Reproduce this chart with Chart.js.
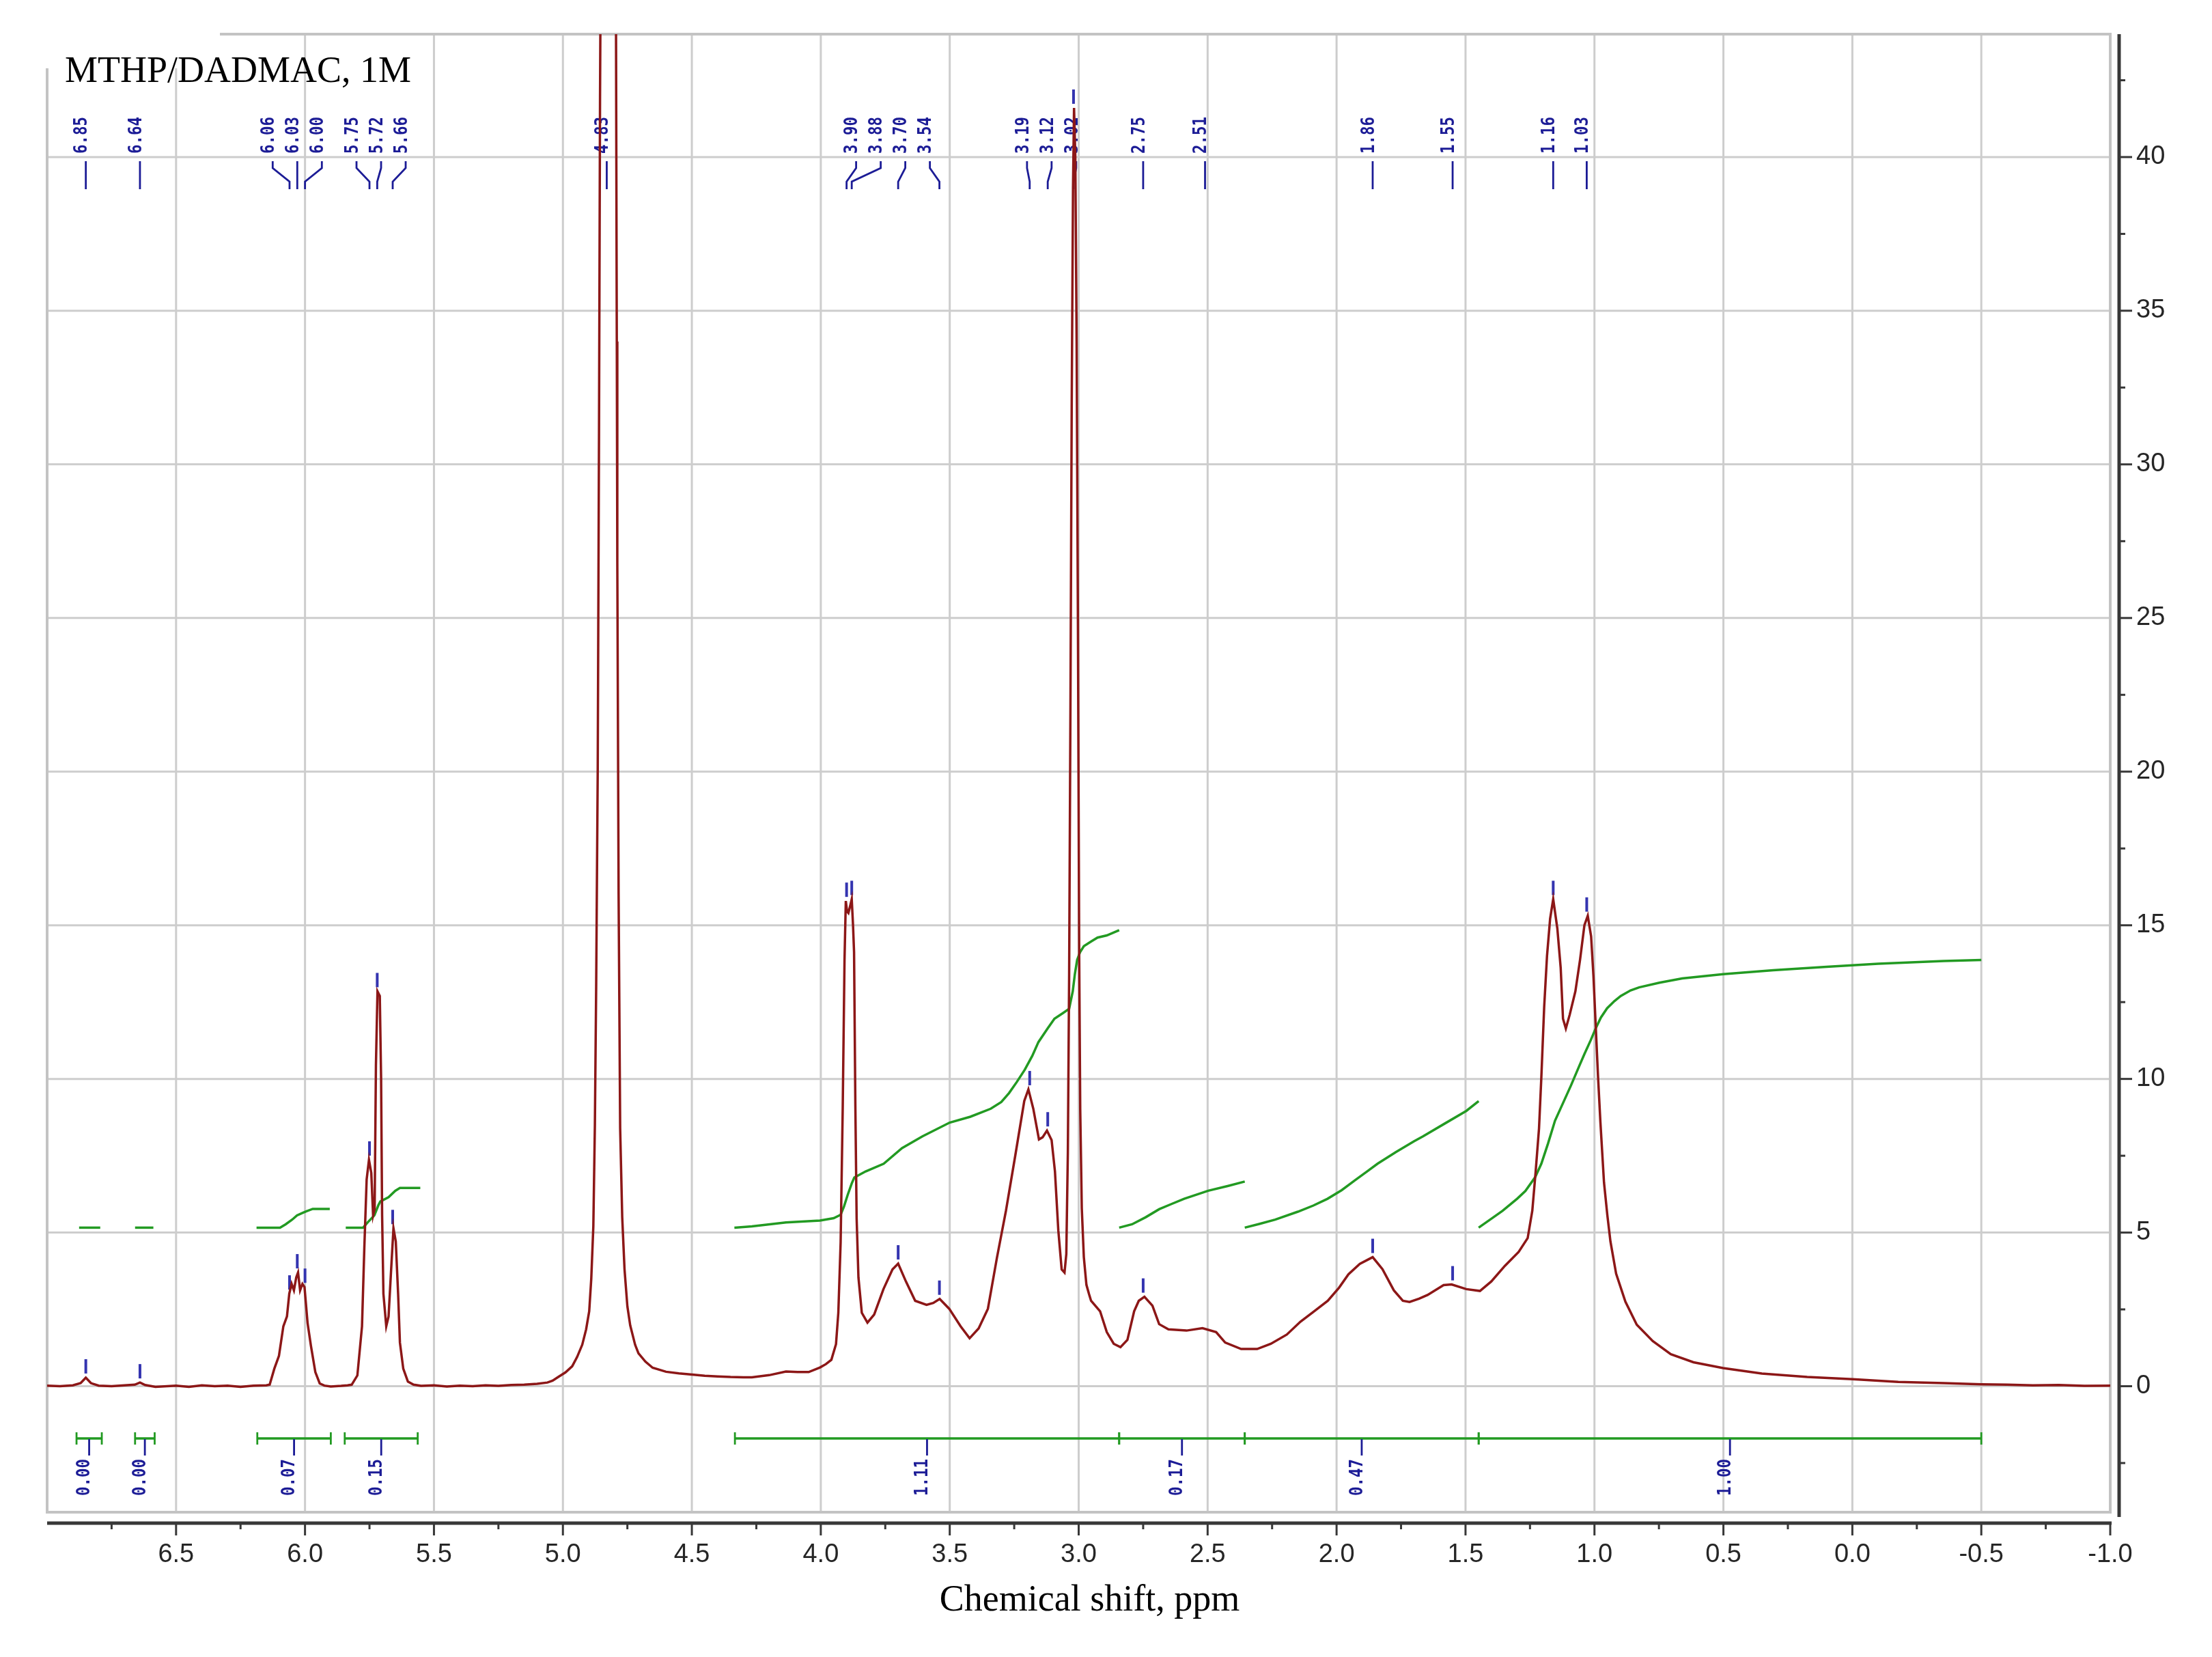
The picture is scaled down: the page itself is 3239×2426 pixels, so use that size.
<!DOCTYPE html>
<html><head><meta charset="utf-8">
<script src="https://cdn.jsdelivr.net/npm/chart.js@4.4.1/dist/chart.umd.min.js"></script>
<style>html,body{margin:0;padding:0;background:#fff;}canvas{display:block;}</style>
</head><body>
<canvas id="c" width="3239" height="2426"></canvas>
<script>
// ---------------- DATA ----------------
const chartTitle = 'MTHP/DADMAC, 1M';
const xTitle = 'Chemical shift, ppm';

const xTickVals = [6.5, 6.0, 5.5, 5.0, 4.5, 4.0, 3.5, 3.0, 2.5, 2.0, 1.5, 1.0, 0.5, 0.0, -0.5, -1.0];
const xTickLabels = ['6.5','6.0','5.5','5.0','4.5','4.0','3.5','3.0','2.5','2.0','1.5','1.0','0.5','0.0','-0.5','-1.0'];
const yTickVals = [0, 5, 10, 15, 20, 25, 30, 35, 40];
const yTickLabels = ['0','5','10','15','20','25','30','35','40'];

// 1H spectrum (ppm, intensity)
const specPpm = [
 7.00,6.95,6.90,6.87,6.85,6.83,6.80,6.75,6.70,6.66,6.64,6.62,6.58,6.50,6.45,6.40,6.35,6.30,6.25,6.20,6.15,
 6.137,6.119,6.101,6.084,6.070,6.061,6.052,6.043,6.034,6.027,6.019,6.010,6.002,5.990,5.977,5.960,5.943,5.925,
 5.90,5.86,5.835,5.819,5.797,5.779,5.770,5.761,5.752,5.743,5.736,5.730,5.725,5.719,5.710,5.705,5.701,5.696,
 5.685,5.676,5.667,5.657,5.648,5.639,5.632,5.619,5.601,5.579,5.55,5.50,5.45,5.40,5.35,5.30,5.25,5.20,5.15,
 5.10,5.06,5.04,5.018,4.990,4.964,4.945,4.925,4.910,4.898,4.890,4.882,4.876,4.871,4.865,4.860,4.856,4.850,
 4.840,4.830,4.815,4.800,4.794,4.791,4.789,4.784,4.778,4.770,4.761,4.750,4.739,4.720,4.707,4.680,4.652,
 4.600,4.550,4.499,4.45,4.40,4.35,4.30,4.267,4.20,4.135,4.090,4.047,4.003,3.980,3.959,3.941,3.932,3.923,
 3.915,3.908,3.903,3.898,3.893,3.887,3.880,3.875,3.871,3.866,3.861,3.854,3.841,3.819,3.793,3.757,3.722,
 3.700,3.670,3.634,3.590,3.564,3.539,3.502,3.458,3.423,3.388,3.352,3.317,3.282,3.246,3.211,3.195,3.176,
 3.154,3.140,3.123,3.105,3.092,3.079,3.066,3.055,3.048,3.042,3.037,3.032,3.027,3.022,3.018,3.013,3.008,
 3.003,2.998,2.994,2.988,2.980,2.970,2.960,2.952,2.917,2.891,2.864,2.838,2.811,2.785,2.767,2.745,2.714,
 2.688,2.652,2.582,2.520,2.467,2.432,2.370,2.308,2.255,2.193,2.140,2.087,2.034,1.990,1.954,1.910,1.860,
 1.822,1.778,1.743,1.717,1.680,1.647,1.585,1.554,1.497,1.444,1.400,1.347,1.294,1.259,1.241,1.228,1.215,
 1.206,1.195,1.184,1.172,1.160,1.144,1.131,1.122,1.111,1.096,1.074,1.056,1.039,1.026,1.013,1.004,0.995,
 0.986,0.977,0.963,0.950,0.938,0.916,0.880,0.836,0.774,0.704,0.616,0.501,0.351,0.175,-0.001,-0.178,-0.354,
 -0.50,-0.60,-0.70,-0.80,-0.90,-1.00
];
const specInt = [
 0.02,0.00,0.03,0.10,0.28,0.10,0.02,0.00,0.03,0.05,0.12,0.04,-0.02,0.02,-0.02,0.03,0.00,0.02,-0.02,0.02,0.03,
 0.05,0.57,0.99,1.95,2.27,3.01,3.33,3.12,3.54,3.70,3.12,3.33,3.23,2.05,1.31,0.46,0.09,0.02,
 -0.01,0.01,0.03,0.05,0.35,1.95,4.50,6.73,7.37,6.94,5.56,5.77,10.45,12.85,12.70,10.03,5.56,3.01,
 1.95,2.27,3.65,5.14,4.71,3.01,1.42,0.57,0.15,0.05,0.01,0.03,-0.01,0.02,0.00,0.03,0.01,0.04,0.05,
 0.08,0.12,0.18,0.30,0.45,0.65,0.95,1.35,1.85,2.44,3.50,5.20,8.5,13.0,20.0,31.0,42.0,52.0,
 60.0,62.0,60.0,52.0,44.0,34.0,26.8,16.0,8.4,5.5,3.8,2.6,1.98,1.35,1.07,0.80,0.60,
 0.47,0.42,0.38,0.34,0.32,0.30,0.29,0.29,0.36,0.48,0.46,0.46,0.61,0.72,0.86,1.37,2.39,4.69,
 9.03,13.87,15.79,15.45,15.40,15.60,15.85,15.0,14.13,9.15,5.45,3.54,2.39,2.07,2.33,3.16,3.80,
 3.99,3.41,2.78,2.65,2.71,2.84,2.52,1.95,1.56,1.88,2.52,4.18,5.71,7.50,9.28,9.66,9.03,
 8.03,8.10,8.32,8.01,6.99,5.07,3.80,3.70,4.30,7.6,13.4,22.0,32.0,39.0,41.6,40.0,34.0,
 25.0,14.0,9.0,5.8,4.2,3.3,3.0,2.78,2.44,1.76,1.38,1.27,1.51,2.44,2.78,2.91,2.62,
 2.02,1.85,1.81,1.89,1.76,1.42,1.21,1.21,1.38,1.68,2.10,2.44,2.78,3.21,3.64,3.98,4.20,
 3.81,3.12,2.78,2.74,2.85,2.97,3.29,3.31,3.16,3.10,3.41,3.92,4.37,4.82,5.71,6.99,8.39,
 10.05,12.34,14.0,15.21,15.85,14.9,13.62,11.96,11.64,12.09,12.85,13.87,15.0,15.31,14.64,13.36,11.70,
 10.05,8.60,6.63,5.56,4.71,3.66,2.75,2.00,1.47,1.04,0.78,0.59,0.41,0.30,0.23,0.14,0.10,
 0.06,0.05,0.03,0.04,0.01,0.02
];

// integral curves (green), one sub-array per integrated region
const intCurvePpm = [
 [6.876, 6.794],
 [6.659, 6.588],
 [6.188, 6.097, 6.075, 6.050, 6.031, 6.010, 5.996, 5.970, 5.904],
 [5.842, 5.775, 5.755, 5.731, 5.715, 5.708, 5.676, 5.650, 5.632, 5.553],
 [4.335,4.267,4.135,4.003,3.950,3.923,3.910,3.896,3.880,3.870,3.826,3.756,3.685,3.606,3.500,3.420,3.341,3.300,3.270,3.240,3.209,3.180,3.156,3.120,3.094,3.060,3.037,3.023,3.015,3.006,2.995,2.980,2.950,2.927,2.891,2.843],
 [2.843,2.793,2.740,2.688,2.640,2.591,2.498,2.420,2.356],
 [2.356,2.300,2.238,2.150,2.090,2.035,1.980,1.929,1.880,1.841,1.770,1.700,1.665,1.580,1.497,1.449],
 [1.449,1.400,1.356,1.300,1.268,1.230,1.206,1.180,1.153,1.120,1.091,1.060,1.039,1.015,0.995,0.975,0.951,0.923,0.898,0.860,0.827,0.748,0.660,0.501,0.307,0.100,-0.100,-0.354,-0.500]
];
const intCurveVal = [
 [5.16, 5.16],
 [5.16, 5.16],
 [5.16, 5.16, 5.27, 5.42, 5.56, 5.64, 5.69, 5.77, 5.77],
 [5.16, 5.16, 5.35, 5.56, 5.90, 6.01, 6.15, 6.36, 6.45, 6.45],
 [5.16,5.20,5.33,5.39,5.47,5.58,5.85,6.22,6.60,6.79,6.99,7.24,7.75,8.13,8.58,8.77,9.03,9.25,9.54,9.90,10.30,10.75,11.20,11.65,11.96,12.15,12.28,12.85,13.40,13.87,14.12,14.32,14.48,14.60,14.67,14.84],
 [5.16,5.27,5.50,5.76,5.93,6.10,6.36,6.52,6.66],
 [5.16,5.28,5.42,5.68,5.88,6.10,6.38,6.70,7.00,7.24,7.62,7.97,8.13,8.55,8.96,9.28],
 [5.16,5.45,5.71,6.10,6.35,6.80,7.24,7.90,8.64,9.25,9.79,10.40,10.81,11.25,11.65,12.00,12.30,12.53,12.70,12.88,12.98,13.13,13.27,13.41,13.54,13.65,13.75,13.84,13.87]
];

// integration ranges and values
const intFrom   = [6.886, 6.659, 6.185, 5.846, 4.333, 2.843, 2.356, 1.449];
const intTo     = [6.788, 6.583, 5.900, 5.563, 2.843, 2.356, 1.449, -0.500];
const intLabels = ['0.00','0.00','0.07','0.15','1.11','0.17','0.47','1.00'];

// picked peaks, grouped as in the label layout
const peakGroups = [[6.85],[6.64],[6.06,6.03,6.00],[5.75,5.72,5.66],[4.83],
  [3.90,3.88,3.70,3.54],[3.19,3.12,3.02],[2.75],[2.51],[1.86],[1.55],[1.16],[1.03]];

// ---------------- STYLE ----------------
const RED='#8c1717', GREEN='#229a22', BLUE='#1c1c96', TICKBLUE='#3434b0';
const GRID='#cdcdcd', FRAME='#c3c3c3', AXIS='#383838';
const MONO='bold 26px "DejaVu Sans Mono"';

function vText(ctx, txt, x, yBottom){
  ctx.save();
  ctx.translate(x, yBottom);
  ctx.rotate(-Math.PI/2);
  ctx.scale(0.86, 1);
  ctx.textAlign='left'; ctx.textBaseline='middle';
  ctx.fillText(txt, 0, 0);
  ctx.restore();
}
function peakHeight(ppm){
  let m = -Infinity;
  specPpm.forEach((p,i)=>{ if (Math.abs(p-ppm) <= 0.008 && specInt[i] > m) m = specInt[i]; });
  return m;
}

const decor = {
  id:'decor',
  beforeDraw(chart){
    const {ctx, chartArea:a, scales:{x,y}} = chart;
    ctx.save();
    ctx.fillStyle='#fff'; ctx.fillRect(0,0,chart.width,chart.height);
    ctx.strokeStyle=GRID; ctx.lineWidth=3;
    xTickVals.forEach(v=>{
      if (v<=x.min || v>=x.max) return;
      const px=x.getPixelForValue(v);
      ctx.beginPath(); ctx.moveTo(px,a.top); ctx.lineTo(px,a.bottom); ctx.stroke();
    });
    yTickVals.forEach(v=>{
      const py=y.getPixelForValue(v);
      ctx.beginPath(); ctx.moveTo(a.left,py); ctx.lineTo(a.right,py); ctx.stroke();
    });
    ctx.strokeStyle=FRAME; ctx.lineWidth=4;
    ctx.strokeRect(a.left,a.top,a.right-a.left,a.bottom-a.top);
    // title box
    ctx.fillStyle='#fff'; ctx.fillRect(0,0,a.left+253,a.top+50);
    ctx.fillStyle='#000'; ctx.font='54px "Liberation Serif"';
    ctx.textAlign='left'; ctx.textBaseline='alphabetic';
    ctx.fillText(chartTitle, 95, 120);
    ctx.restore();
  },
  beforeDatasetsDraw(chart){
    const {ctx, chartArea:a, scales:{x,y}} = chart;
    ctx.save();
    // peak labels
    const sp = 36;
    ctx.font = MONO;
    peakGroups.forEach(g=>{
      const px = g.map(p=>x.getPixelForValue(p));
      const c = (Math.min(...px)+Math.max(...px))/2;
      g.forEach((p,i)=>{
        const lx = g.length>1 ? c + (i-(g.length-1)/2)*sp : px[i];
        ctx.fillStyle=BLUE;
        vText(ctx, p.toFixed(2), lx-5, a.top+175);
        ctx.strokeStyle=BLUE; ctx.lineWidth=2.8;
        ctx.beginPath();
        ctx.moveTo(lx, a.top+186); ctx.lineTo(lx, a.top+196);
        ctx.lineTo(px[i], a.top+216); ctx.lineTo(px[i], a.top+227);
        ctx.stroke();
        // tick above peak
        const h = peakHeight(p);
        const py = y.getPixelForValue(h);
        if (py-26 > a.top) {
          ctx.strokeStyle=TICKBLUE; ctx.lineWidth=4;
          ctx.beginPath(); ctx.moveTo(px[i], py-27); ctx.lineTo(px[i], py-6); ctx.stroke();
        }
      });
    });
    // integration bars
    const by = a.bottom-108;
    intFrom.forEach((f,i)=>{
      const x1=x.getPixelForValue(f), x2=x.getPixelForValue(intTo[i]);
      ctx.strokeStyle=GREEN; ctx.lineWidth=3.5;
      ctx.beginPath(); ctx.moveTo(x1,by); ctx.lineTo(x2,by); ctx.stroke();
      ctx.lineWidth=2.8;
      [x1,x2].forEach(xx=>{ ctx.beginPath(); ctx.moveTo(xx,by-9); ctx.lineTo(xx,by+9); ctx.stroke(); });
      const xm = x.getPixelForValue((f+intTo[i])/2);
      ctx.strokeStyle=BLUE; ctx.lineWidth=2.8;
      ctx.beginPath(); ctx.moveTo(xm,by+1); ctx.lineTo(xm,by+25); ctx.stroke();
      ctx.fillStyle=BLUE; ctx.font=MONO;
      vText(ctx, intLabels[i], xm-6, by+84);
    });
    ctx.restore();
  },
  afterDraw(chart){
    const {ctx, chartArea:a, scales:{x,y}} = chart;
    ctx.save();
    ctx.strokeStyle=AXIS; ctx.fillStyle='#262626';
    // bottom axis
    const ay = a.bottom+16;
    ctx.lineWidth=5;
    ctx.beginPath(); ctx.moveTo(a.left, ay); ctx.lineTo(a.right+2, ay); ctx.stroke();
    ctx.lineWidth=3;
    ctx.font='38px "Liberation Sans"'; ctx.textAlign='center'; ctx.textBaseline='middle';
    xTickVals.forEach((v,i)=>{
      const px=x.getPixelForValue(v);
      ctx.beginPath(); ctx.moveTo(px, ay); ctx.lineTo(px, ay+18); ctx.stroke();
      const mx=x.getPixelForValue(v+0.25);
      ctx.beginPath(); ctx.moveTo(mx, ay); ctx.lineTo(mx, ay+9); ctx.stroke();
      ctx.fillText(xTickLabels[i], px, ay+47);
    });
    // right axis
    const ax = a.right+13;
    ctx.lineWidth=5;
    ctx.beginPath(); ctx.moveTo(ax, a.top); ctx.lineTo(ax, a.bottom+7); ctx.stroke();
    ctx.lineWidth=3;
    ctx.textAlign='left';
    yTickVals.forEach((v,i)=>{
      const py=y.getPixelForValue(v);
      ctx.beginPath(); ctx.moveTo(ax, py); ctx.lineTo(ax+19, py); ctx.stroke();
      ctx.fillText(yTickLabels[i], ax+25, py);
    });
    [-2.5].concat(yTickVals.map(v=>v+2.5)).forEach(v=>{
      const py=y.getPixelForValue(v);
      ctx.beginPath(); ctx.moveTo(ax, py); ctx.lineTo(ax+9, py); ctx.stroke();
    });
    // x title
    ctx.fillStyle='#000'; ctx.font='54px "Liberation Serif"';
    ctx.textAlign='center'; ctx.textBaseline='alphabetic';
    ctx.fillText(xTitle, (a.left+a.right)/2+16, a.bottom+144);
    ctx.restore();
  }
};

const datasets = [{
  data: specPpm.map((p,i)=>({x:p, y:specInt[i]})),
  showLine:true, borderColor:RED, borderWidth:3.5, pointRadius:0, tension:0, fill:false
}];
intCurvePpm.forEach((arr,k)=>{
  datasets.push({
    data: arr.map((p,i)=>({x:p, y:intCurveVal[k][i]})),
    showLine:true, borderColor:GREEN, borderWidth:3.5, pointRadius:0, tension:0, fill:false
  });
});

new Chart(document.getElementById('c'), {
  type:'scatter',
  data:{datasets},
  options:{
    responsive:false, animation:false, devicePixelRatio:1,
    layout:{padding:{left:69, right:149, top:50, bottom:212}},
    plugins:{legend:{display:false}, tooltip:{enabled:false}, title:{display:false}},
    events:[],
    scales:{
      x:{type:'linear', min:-1, max:7, reverse:true, display:false},
      y:{type:'linear', min:-4.1, max:44, display:false}
    }
  },
  plugins:[decor]
});
</script>
</body></html>
